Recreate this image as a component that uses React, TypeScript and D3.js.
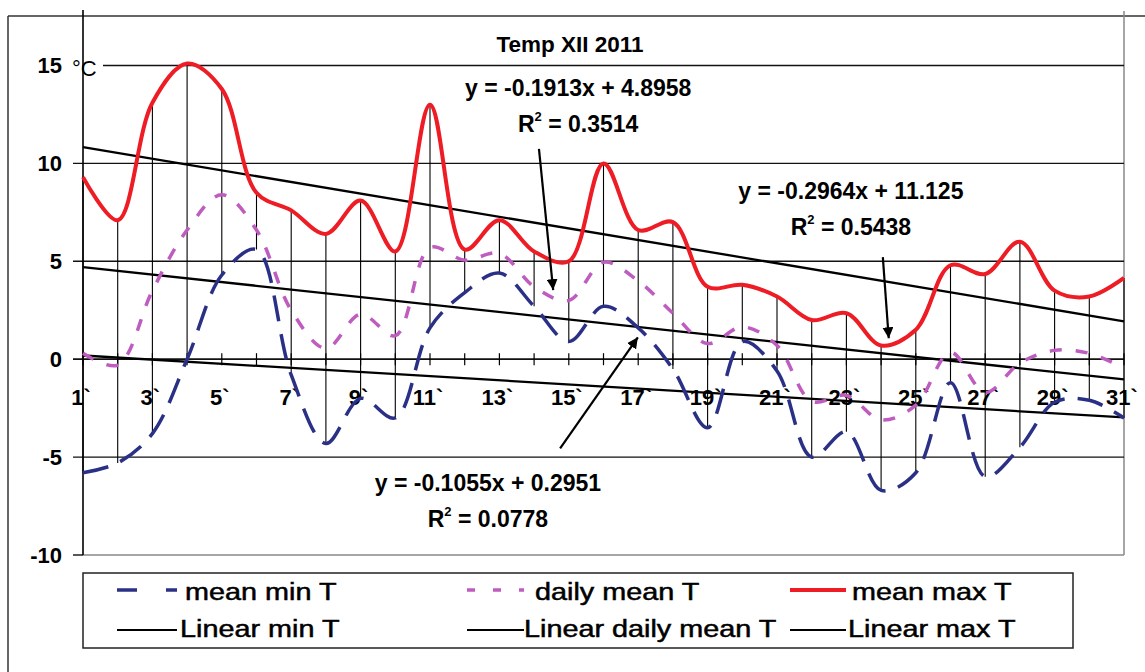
import * as d3 from "d3";

const DAYS = [1, 2, 3, 4, 5, 6, 7, 8, 9, 10, 11, 12, 13, 14, 15, 16, 17, 18, 19, 20, 21, 22, 23, 24, 25, 26, 27, 28, 29, 30, 31];
const MAX_T = [9.3, 7.1, 13.1, 15.1, 13.8, 8.5, 7.6, 6.4, 8.1, 5.5, 13.0, 5.6, 7.1, 5.5, 5.0, 10.0, 6.6, 7.0, 3.7, 3.8, 3.2, 2.0, 2.35, 0.7, 1.5, 4.8, 4.35, 6.0, 3.5, 3.2, 4.15];
const MIN_T = [-5.8, -5.3, -3.8, 0.0, 4.3, 5.6, -0.8, -4.3, -2.0, -3.0, 1.6, 3.4, 4.4, 2.7, 0.9, 2.7, 1.6, -0.5, -3.5, 0.9, -0.6, -5.0, -3.7, -6.7, -5.8, -1.2, -6.0, -4.5, -2.2, -2.1, -3.0];
const MEAN_T = [0.3, -0.3, 3.5, 6.6, 8.4, 6.6, 2.5, 0.55, 2.3, 1.2, 5.7, 5.06, 5.4, 3.7, 3.0, 4.95, 4.0, 2.35, 0.8, 1.65, 0.7, -2.15, -1.85, -3.1, -2.35, 0.35, -1.7, -0.2, 0.45, 0.3, -0.45];

const Y_TICKS = [15, 10, 5, 0, -5, -10];
const X_LABELS = [1, 3, 5, 7, 9, 11, 13, 15, 17, 19, 21, 23, 25, 27, 29, 31];

// trend lines: min, mean, max
const TREND_SLOPE = [-0.1055, -0.1913, -0.2964];
const TREND_INTERCEPT = [0.2951, 4.8958, 11.125];
const TREND_EQ = ["y = -0.1055x + 0.2951", "y = -0.1913x + 4.8958", "y = -0.2964x + 11.125"];
const TREND_R2 = ["0.0778", "0.3514", "0.5438"];
// label anchor (day, value) and arrow from/to (day, value)
const LABEL_AT: [number, number][] = [[12.67, -6.74], [15.27, 13.45], [23.13, 8.17]];
const ARROW_FROM: [number, number][] = [[14.75, -4.55], [14.14, 10.74], [24.05, 5.21]];
const ARROW_TO: [number, number][] = [[16.99, 1.12], [14.55, 3.53], [24.22, 1.07]];

const RED = "#ee1c24";
const BLUE = "#2b3087";
const PINK = "#bf5cbf";
const FONT = "'Liberation Sans', Arial, sans-serif";

const W = 1145;
const H = 672;

export default function App() {
  const x = d3.scaleLinear().domain([1, 31]).range([83, 1124]);
  const y = d3.scaleLinear().domain([-10, 15]).range([555, 65.5]);

  const line = d3
    .line<number>()
    .x((_, i) => x(DAYS[i]))
    .y((d) => y(d))
    .curve(d3.curveCatmullRom);

  const legendRows = [
    [
      { label: "mean min T", color: BLUE, dash: "20 29", w: 3.5, tx: 185 },
      { label: "daily mean T", color: PINK, dash: "8 18", w: 3.5, tx: 535 },
      { label: "mean max T", color: RED, dash: "", w: 4, tx: 852 },
    ],
    [
      { label: "Linear min T", color: "#000", dash: "", w: 2, tx: 180 },
      { label: "Linear daily mean T", color: "#000", dash: "", w: 2, tx: 524 },
      { label: "Linear max T", color: "#000", dash: "", w: 2, tx: 848 },
    ],
  ];
  const legendSampleX = [[117, 177], [467, 524], [790, 846]];

  return (
    <svg
      width={W}
      height={H}
      style={{ position: "absolute", left: 0, top: 0, background: "#fff" }}
      fontFamily={FONT}
    >
      <defs>
        <marker id="arr" viewBox="0 0 10 10" refX="10" refY="5" markerWidth="5" markerHeight="5" orient="auto">
          <path d="M0,0 L10,5 L0,10 z" fill="#000" />
        </marker>
      </defs>

      {/* outer frame */}
      <line x1={8} x2={W} y1={16} y2={16} stroke="#333" strokeWidth={1.5} />
      <line x1={8} x2={8} y1={16} y2={H} stroke="#333" strokeWidth={1.5} />

      {/* plot border */}
      <line x1={x(31)} x2={x(31)} y1={11} y2={y(-10)} stroke="#888" strokeWidth={1.5} />
      <line x1={x(1)} x2={x(31)} y1={y(-10)} y2={y(-10)} stroke="#888" strokeWidth={1.5} />

      {/* gridlines + y ticks */}
      {Y_TICKS.map((t) => (
        <g key={t}>
          {t !== -10 && (
            <line x1={73} x2={x(31)} y1={y(t)} y2={y(t)} stroke="#111" strokeWidth={t === 0 ? 1.8 : 1.4} />
          )}
          {t === -10 && <line x1={73} x2={x(1)} y1={y(t)} y2={y(t)} stroke="#111" strokeWidth={1.4} />}
          <text x={62} y={y(t)} dy="0.36em" textAnchor="end" fontSize={22} fontWeight="bold">
            {t}
          </text>
        </g>
      ))}
      <rect x={67} y={y(15) - 14} width={36} height={28} fill="#fff" />
      <text x={72} y={y(15) + 10} fontSize={22}>
        °C
      </text>

      {/* y axis */}
      <line x1={x(1)} x2={x(1)} y1={10} y2={y(-10)} stroke="#000" strokeWidth={1.6} />

      {/* x ticks on zero line */}
      {DAYS.map((d) => (
        <line key={d} x1={x(d)} x2={x(d)} y1={y(0) - 6} y2={y(0) + 6} stroke="#000" strokeWidth={1.2} />
      ))}
      {X_LABELS.map((d) => (
        <text key={d} x={x(d) - 2} y={405} textAnchor="middle" fontSize={22} fontWeight="bold">
          {`${d}\``}
        </text>
      ))}

      {/* high-low lines */}
      {DAYS.map((d, i) => (
        <line key={d} x1={x(d)} x2={x(d)} y1={y(MAX_T[i])} y2={y(MIN_T[i])} stroke="#000" strokeWidth={1.1} />
      ))}

      {/* trend lines */}
      {TREND_SLOPE.map((s, k) => (
        <line
          key={k}
          x1={x(1)}
          x2={x(31)}
          y1={y(s * 1 + TREND_INTERCEPT[k])}
          y2={y(s * 31 + TREND_INTERCEPT[k])}
          stroke="#000"
          strokeWidth={2.3}
        />
      ))}

      {/* series */}
      <path d={line(MEAN_T) ?? ""} fill="none" stroke={PINK} strokeWidth={3.5} strokeDasharray="12 14" />
      <path d={line(MIN_T) ?? ""} fill="none" stroke={BLUE} strokeWidth={3.5} strokeDasharray="26 13" />
      <path d={line(MAX_T) ?? ""} fill="none" stroke={RED} strokeWidth={4} />

      {/* title */}
      <text x={570} y={52} textAnchor="middle" fontSize={22.5} fontWeight="bold">
        Temp XII 2011
      </text>

      {/* trend annotations */}
      {TREND_EQ.map((eq, k) => {
        const [ld, lv] = LABEL_AT[k];
        const cx = x(ld);
        const by = y(lv);
        return (
          <g key={k} fontWeight="bold" fontSize={23}>
            <text x={cx} y={by} textAnchor="middle">
              {eq}
            </text>
            <text x={cx} y={by + 36} textAnchor="middle">
              <tspan>R</tspan>
              <tspan fontSize={13} dy={-11}>
                2
              </tspan>
              <tspan dy={11}>{` = ${TREND_R2[k]}`}</tspan>
            </text>
            <line
              x1={x(ARROW_FROM[k][0])}
              y1={y(ARROW_FROM[k][1])}
              x2={x(ARROW_TO[k][0])}
              y2={y(ARROW_TO[k][1])}
              stroke="#000"
              strokeWidth={2.2}
              markerEnd="url(#arr)"
            />
          </g>
        );
      })}

      {/* legend */}
      <rect x={83} y={573} width={990} height={75} fill="#fff" stroke="#222" strokeWidth={1.5} />
      {legendRows.map((row, r) =>
        row.map((it, c) => {
          const ly = r === 0 ? 590 : 630;
          const ty = r === 0 ? 600 : 637;
          return (
            <g key={`${r}-${c}`}>
              <line
                x1={legendSampleX[c][0]}
                x2={legendSampleX[c][1]}
                y1={ly}
                y2={ly}
                stroke={it.color}
                strokeWidth={it.w}
                strokeDasharray={it.dash || undefined}
              />
              <text
                transform={`translate(${it.tx},${ty}) scale(1.2,1)`}
                fontSize={24}
                stroke="#000"
                strokeWidth={0.5}
              >
                {it.label}
              </text>
            </g>
          );
        }),
      )}
    </svg>
  );
}
